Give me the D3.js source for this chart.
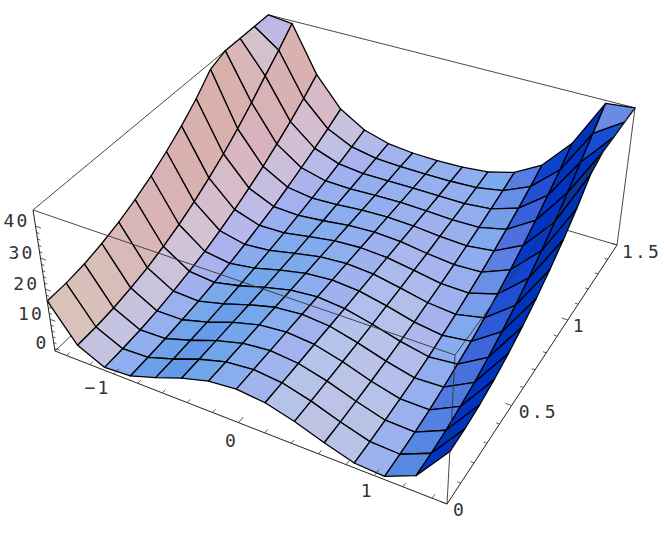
<!DOCTYPE html>
<html lang="en">
    <head>
        <meta charset="utf-8"/>
        <script src="https://d3js.org/d3.v7.min.js"></script>
        <style>
            body { margin: 0; background: white; }
            text { font-family: "DejaVu Sans Mono", monospace; font-size: 18px; letter-spacing: 2.2px; fill: #333; }
        </style>
    </head>
    <body>
        <div id="chart"></div>
    </body>
    <script>
        var xValues = [-1.5, -1.2857, -1.0714, -0.8571, -0.6429, -0.4286, -0.2143, 0, 0.2143, 0.4286, 0.6429, 0.8571, 1.0714, 1.2857, 1.5];
        var yValues = [0, 0.1071, 0.2143, 0.3214, 0.4286, 0.5357, 0.6429, 0.75, 0.8571, 0.9643, 1.0714, 1.1786, 1.2857, 1.3929, 1.5];

        // one row per y value
        var zValues = [
            [16.1, 4.4, 0.2, 0.7, 3.6, 6.9, 9.4, 10.3, 9.4, 6.9, 3.6, 0.7, 0.2, 4.4, 16.1],
            [16.3, 4.6, 0.4, 0.8, 3.6, 6.9, 9.4, 10.3, 9.4, 6.9, 3.6, 0.8, 0.4, 4.6, 16.3],
            [17.1, 5.2, 0.8, 1.1, 3.8, 7.0, 9.4, 10.3, 9.4, 7.0, 3.8, 1.1, 0.8, 5.2, 17.1],
            [18.5, 6.3, 1.5, 1.6, 4.0, 7.1, 9.5, 10.3, 9.5, 7.1, 4.0, 1.6, 1.5, 6.3, 18.5],
            [20.4, 7.7, 2.6, 2.2, 4.4, 7.2, 9.5, 10.3, 9.5, 7.2, 4.4, 2.2, 2.6, 7.7, 20.4],
            [22.8, 9.6, 3.9, 3.0, 4.9, 7.4, 9.5, 10.3, 9.5, 7.4, 4.9, 3.0, 3.9, 9.6, 22.8],
            [25.7, 11.9, 5.4, 4.1, 5.4, 7.7, 9.6, 10.3, 9.6, 7.7, 5.4, 4.1, 5.4, 11.9, 25.7],
            [29.1, 14.6, 7.3, 5.3, 6.1, 8.0, 9.7, 10.3, 9.7, 8.0, 6.1, 5.3, 7.3, 14.6, 29.1],
            [33.0, 17.8, 9.5, 6.7, 6.9, 8.4, 9.8, 10.3, 9.8, 8.4, 6.9, 6.7, 9.5, 17.8, 33.0],
            [37.5, 21.3, 12.0, 8.2, 7.8, 8.7, 9.9, 10.3, 9.9, 8.7, 7.8, 8.2, 12.0, 21.3, 37.5],
            [42.9, 25.3, 14.7, 10.0, 8.8, 9.2, 10.0, 10.3, 10.0, 9.2, 8.8, 10.0, 14.7, 25.3, 42.9],
            [49.0, 29.7, 17.8, 12.0, 9.9, 9.7, 10.1, 10.3, 10.1, 9.7, 9.9, 12.0, 17.8, 29.7, 49.0],
            [55.0, 34.5, 21.1, 14.1, 11.1, 10.2, 10.2, 10.3, 10.2, 10.2, 11.1, 14.1, 21.1, 34.5, 55.0],
            [62.0, 39.0, 24.7, 16.4, 12.4, 10.8, 10.4, 10.3, 10.4, 10.8, 12.4, 16.4, 24.7, 39.0, 62.0],
            [70.0, 44.0, 28.7, 18.9, 13.8, 11.4, 10.5, 10.3, 10.5, 11.4, 13.8, 18.9, 28.7, 44.0, 70.0]
        ];

        var xTicks = [-1.4, -1.2, -1, -0.8, -0.6, -0.4, -0.2, 0, 0.2, 0.4, 0.6, 0.8, 1, 1.2, 1.4];
        var yTicks = [0, 0.1, 0.2, 0.3, 0.4, 0.5, 0.6, 0.7, 0.8, 0.9, 1, 1.1, 1.2, 1.3, 1.4, 1.5];
        var zTicks = d3.range(0, 42, 2);

        var xLabels = [[-1, "\u22121", -16, 14], [0, "0", -7, 18], [1, "1", -7, 15]];
        var yLabels = [[0, "0", 6, 12], [0.5, "0.5", 7, 12], [1, "1", 5, 12], [1.5, "1.5", 5, 13]];
        var zLabels = [0, 10, 20, 30, 40];

        var width = 664;
        var height = 539;

        var svg = d3.select("#chart")
            .append("svg")
                .attr("width", width)
                .attr("height", height);

        // data to unit box
        var u = d3.scaleLinear().domain([-1.5, 1.5]).range([0, 1]);
        var v = d3.scaleLinear().domain([0, 1.5]).range([0, 1]);
        var w = d3.scaleLinear().domain([-0.9, 44.9]).range([0, 1]).clamp(true);

        // light response of each channel, matched by eye to the reference
        var redLight = d3.scaleLinear().domain([-0.38, -0.1, 0.18, 0.66, 0.97]).range([0, 0.3, 0.47, 0.71, 0.85]).clamp(true);
        var greenLight = d3.scaleLinear().domain([0, 0.62, 0.86, 0.93]).range([0.2, 0.66, 0.7, 0.765]).clamp(true);

        // camera fitted to the corners of the box
        function project(p) {
            var d = 1 - 0.1207 * p[0] + 0.2 * p[1] - 0.0688 * p[2];
            return [
                (55 + 338.07 * p[0] + 272.9 * p[1] - 24.27 * p[2]) / d,
                (351 + 92.19 * p[0] - 178.75 * p[1] - 155.45 * p[2]) / d
            ];
        }

        var line = d3.line();
        function seg(g, a, b, sw, col) {
            g.append("path")
                .attr("d", line([project(a), project(b)]))
                .attr("fill", "none")
                .attr("stroke", col)
                .attr("stroke-width", sw);
        }

        // back of the box
        var back = svg.append("g");
        seg(back, [0, 0, 0], [0, 1, 0], 0.9, "#333");
        seg(back, [0, 1, 0], [1, 1, 0], 0.9, "#333");
        seg(back, [0, 0, 1], [0, 1, 1], 0.9, "#333");
        seg(back, [0, 1, 1], [1, 1, 1], 0.9, "#333");
        seg(back, [1, 1, 0], [1, 1, 1], 0.9, "#333");

        // view axes for ViewPoint {1.3, -2.4, 2}
        var right = [0.878, 0.475, 0];
        var up = [-0.28, 0.518, 0.808];
        var toEye = [0.383, -0.708, 0.59];
        function dot(a, b) { return a[0] * b[0] + a[1] * b[1] + a[2] * b[2]; }

        function cellColor(a, b, c, d) {
            var p = [c[0] - a[0], c[1] - a[1], 0.4 * (c[2] - a[2])];
            var q = [d[0] - b[0], d[1] - b[1], 0.4 * (d[2] - b[2])];
            var n = [p[1] * q[2] - p[2] * q[1], p[2] * q[0] - p[0] * q[2], p[0] * q[1] - p[1] * q[0]];
            var len = Math.sqrt(dot(n, n));
            n = n.map(function (t) { return t / len; });
            if (n[2] < 0) n = n.map(function (t) { return -t; });
            var nx = dot(n, right), ny = dot(n, up), nz = dot(n, toEye);
            // three coloured lights
            var red = redLight((nx + nz) / Math.SQRT2);
            var green = greenLight((nx + ny + nz) / Math.sqrt(3));
            var blue = Math.min(1, 0.5 + 0.5 * (ny + nz) / Math.SQRT2 - 0.1 * red);
            return d3.rgb(255 * red, 255 * green, 255 * blue);
        }

        // back to front, the camera sits past x max and before y min
        var cells = [];
        for (var j = yValues.length - 2; j >= 0; j--) {
            for (var i = 0; i < xValues.length - 1; i++) {
                cells.push([i, j]);
            }
        }

        function corner(i, j) { return [u(xValues[i]), v(yValues[j]), w(zValues[j][i])]; }

        svg.append("g")
            .selectAll("path")
            .data(cells)
            .enter()
            .append("path")
            .attr("d", function (c) {
                var pts = [corner(c[0], c[1]), corner(c[0] + 1, c[1]), corner(c[0] + 1, c[1] + 1), corner(c[0], c[1] + 1)];
                return line(pts.map(project)) + "Z";
            })
            .attr("fill", function (c) {
                return cellColor(corner(c[0], c[1]), corner(c[0] + 1, c[1]), corner(c[0] + 1, c[1] + 1), corner(c[0], c[1] + 1));
            })
            .attr("stroke", "#000")
            .attr("stroke-width", 1.3)
            .attr("stroke-linejoin", "round");

        // front of the box and the axes
        var front = svg.append("g");
        seg(front, [0, 0, 1], [1, 0, 1], 0.9, "#333");
        seg(front, [1, 0, 1], [1, 1, 1], 0.9, "#333");
        seg(front, [1, 0, 0], [1, 0, 1], 0.9, "#333");
        seg(front, [0, 0, 0], [1, 0, 0], 1, "#222");
        seg(front, [1, 0, 0], [1, 1, 0], 1, "#222");
        seg(front, [0, 0, 0], [0, 0, 1], 1, "#222");

        xTicks.forEach(function (t) {
            var major = Math.abs(t % 1) < 1e-9;
            seg(front, [u(t), 0, 0], [u(t), major ? 0.02 : 0.012, 0], 0.8, "#333");
        });
        yTicks.forEach(function (t) {
            var major = Math.abs(t % 0.5) < 1e-9;
            seg(front, [1, v(t), 0], [major ? 0.985 : 0.992, v(t), 0], 0.8, "#333");
        });
        zTicks.forEach(function (t) {
            var major = t % 10 === 0;
            seg(front, [0, 0, w(t)], [major ? 0.015 : 0.008, 0, w(t)], 0.8, "#333");
        });

        xLabels.forEach(function (l) {
            var p = project([u(l[0]), 0, 0]);
            svg.append("text")
                .attr("x", p[0] + l[2])
                .attr("y", p[1] + l[3] + 6)
                .attr("text-anchor", "middle")
                .text(l[1]);
        });
        yLabels.forEach(function (l) {
            var p = project([1, v(l[0]), 0]);
            svg.append("text")
                .attr("x", p[0] + l[2])
                .attr("y", p[1] + l[3])
                .text(l[1]);
        });
        zLabels.forEach(function (t) {
            var p = project([0, 0, w(t)]);
            svg.append("text")
                .attr("x", p[0] - 6)
                .attr("y", p[1] + 1)
                .attr("text-anchor", "end")
                .text(t);
        });
    </script>
</html>
